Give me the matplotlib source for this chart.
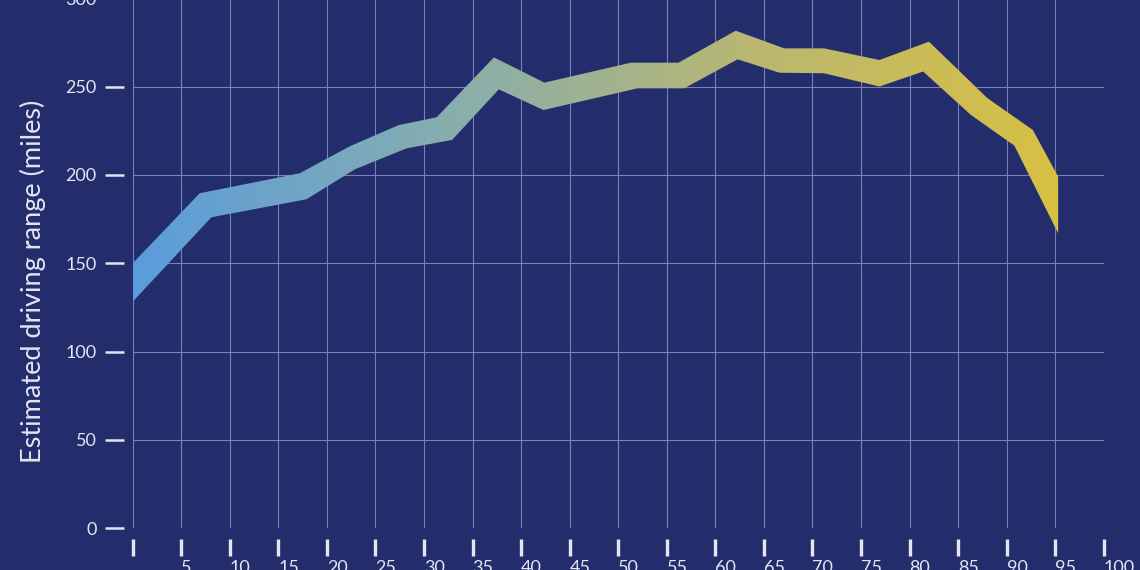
import numpy as np
import matplotlib
matplotlib.use("Agg")
import matplotlib.pyplot as plt
from matplotlib.colors import LinearSegmentedColormap
from matplotlib.patches import Polygon

# band edges (x = battery %, y = miles)
upper_x = [0, 6.9, 17.2, 22.4, 27.4, 31.3, 37.2, 42.4, 51.3, 56.2, 62.1, 67.1, 71.2, 76.9, 82.0, 88.0, 92.7, 95.3]
upper_y = [150, 189.6, 200.9, 216.3, 228.2, 232.6, 266.5, 252.2, 263.5, 263.5, 281.6, 271.6, 271.6, 265.0, 275.4, 243.5, 225.4, 199]
lower_x = [0, 8.1, 17.9, 22.9, 28.2, 32.9, 37.7, 42.3, 52.0, 56.8, 62.3, 66.6, 71.2, 76.9, 81.4, 86.3, 90.8, 95.3]
lower_y = [128.2, 176, 186.2, 203.2, 215, 219.8, 248.4, 236.7, 249, 249, 265.4, 257.8, 257.5, 250, 258.5, 234, 216.5, 167]

x_ticks = list(range(0, 101, 5))
x_labels = [""] + [str(v) for v in range(5, 101, 5)]
y_ticks = [0, 50, 100, 150, 200, 250, 300]

bg = "#232d6b"
grid_col = "#7a81b8"
txt_col = "#e3e5f2"

plt.rcParams["font.family"] = ["Lato", "DejaVu Sans"]

fig = plt.figure(figsize=(11.4, 5.7), dpi=100, facecolor=bg)
ax = fig.add_axes([0.1164, 0.0732, 0.8518, 0.930])
ax.set_facecolor(bg)
ax.set_xlim(0, 100)
ax.set_ylim(0, 300)

# grid
for v in x_ticks:
    ax.axvline(v, color=grid_col, lw=0.8, zorder=1)
for v in y_ticks:
    ax.axhline(v, color=grid_col, lw=0.8, zorder=1)

# gradient band
pts = list(zip(upper_x, upper_y)) + list(zip(lower_x[::-1], lower_y[::-1]))
poly = Polygon(pts, closed=True, facecolor="none", edgecolor="none")
ax.add_patch(poly)
cmap = LinearSegmentedColormap.from_list("band", ["#5b9cdc", "#86aeb0", "#b9b772", "#d8c043"])
grad = np.linspace(0, 1, 256).reshape(1, -1)
im = ax.imshow(grad, cmap=cmap, aspect="auto", extent=[0, max(upper_x), 0, 300],
               origin="lower", zorder=3, interpolation="bilinear")
im.set_clip_path(poly)

for s in ax.spines.values():
    s.set_visible(False)
ax.spines["bottom"].set_position(("outward", 8))
ax.spines["left"].set_position(("outward", 6))

ax.set_xticks(x_ticks)
ax.set_xticklabels(x_labels, ha="left")
ax.set_yticks(y_ticks)
ax.tick_params(axis="x", direction="out", length=12, width=2.4, color=txt_col,
               labelcolor=txt_col, labelsize=13, pad=3)
ax.tick_params(axis="y", direction="out", length=14, width=1.8, color=txt_col,
               labelcolor=txt_col, labelsize=13, pad=6)

fig.text(0.029, 0.507, "Estimated driving range (miles)", rotation=90, color=txt_col,
         fontsize=19.5, ha="center", va="center")

fig.savefig("out.png", dpi=100, facecolor=bg)
